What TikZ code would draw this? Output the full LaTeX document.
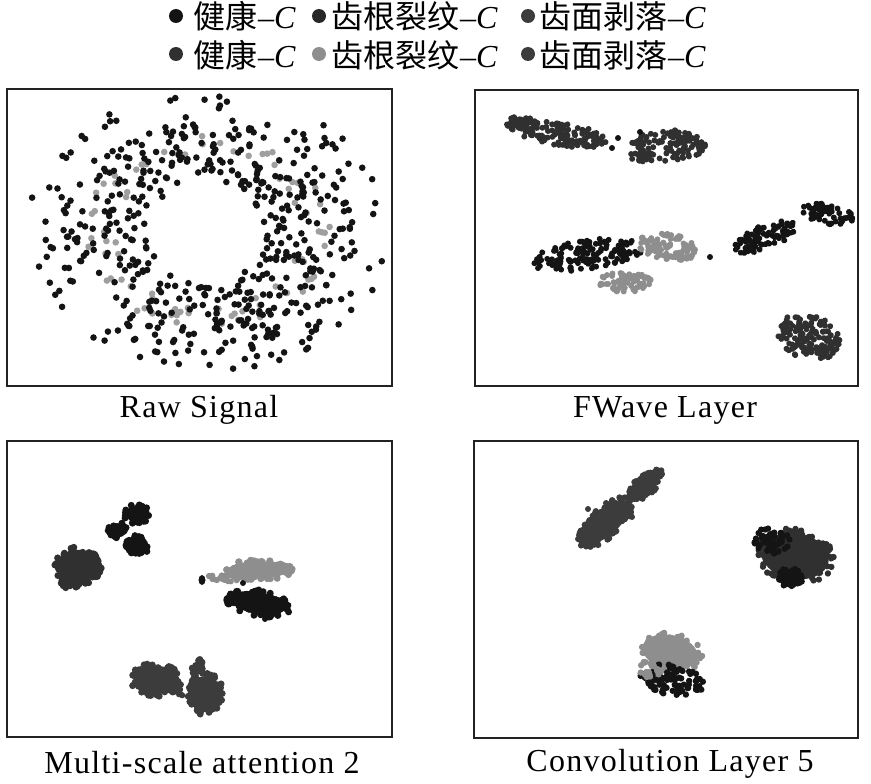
\documentclass[tikz,border=0pt]{standalone}
\usepackage{fontspec}
\setmainfont{Liberation Serif}
\newfontfamily\cjk{Noto Sans CJK SC}
\newfontfamily\lblfont[LetterSpace=4]{Liberation Serif}
\definecolor{blk}{HTML}{141414}
\definecolor{dk}{HTML}{303030}
\definecolor{dkb}{HTML}{3C3C3C}
\definecolor{lg}{HTML}{8E8E8E}
\definecolor{frame}{HTML}{222222}
\tikzset{
  panel/.style={draw=frame, line width=1.8pt},
  lbl/.style={inner sep=0pt, anchor=base, font=\lblfont\fontsize{32}{36}\selectfont},
  legtxt/.style={inner sep=0pt, anchor=base west, font=\fontsize{32}{36}\selectfont},
  legdot/.style={circle, inner sep=0pt, minimum size=14pt}
}
\newcommand\clu[8]{% cx, cy, rx, ry, rot, n, color, radius
  \begin{scope}[shift={(#1,#2)},rotate=#5]
    \foreach \k in {1,...,#6}{%
      \pgfmathsetmacro\aa{360*rnd}%
      \pgfmathsetmacro\rr{sqrt(rnd)}%
      \fill[#7] ({#3*\rr*cos(\aa)},{#4*\rr*sin(\aa)}) circle[radius=#8];
    }
  \end{scope}}
\newcommand\cluc[8]{% same, with a solid core
  \fill[#7, rotate around={#5:(#1,#2)}] (#1,#2) ellipse[x radius={0.85*#3}, y radius={0.85*#4}];
  \clu{#1}{#2}{#3}{#4}{#5}{#6}{#7}{#8}}
\newcommand\lgd[1]{{\cjk #1}\kern1pt--\textit{C}}
\begin{document}
\begin{tikzpicture}[x=1pt,y=-1pt]
\useasboundingbox (0,0) rectangle (871,784);
\pgfmathsetseed{4242}
% ---------- legend ----------
\node[legdot, fill=blk] (d11) at (176,16) {};
\node[legtxt] (t11) at (193,29) {\lgd{健康}};
\node[legdot, fill=blk!92] (d12) at (319,16) {};
\node[legtxt] (t12) at (331,29) {\lgd{齿根裂纹}};
\node[legdot, fill=dkb] (d13) at (528,16) {};
\node[legtxt] (t13) at (539,29) {\lgd{齿面剥落}};
\node[legdot, fill=dk] (d21) at (176,54) {};
\node[legtxt] (t21) at (193,68) {\lgd{健康}};
\node[legdot, fill=lg] (d22) at (319,54) {};
\node[legtxt] (t22) at (331,68) {\lgd{齿根裂纹}};
\node[legdot, fill=dkb] (d23) at (528,54) {};
\node[legtxt] (t23) at (539,68) {\lgd{齿面剥落}};
% ---------- panel 1: Raw Signal ----------
\begin{scope}
  \clip (7,89) rectangle (392,386);
  \foreach \k in {1,...,80}{%
    \pgfmathsetmacro\aa{360*rnd}%
    \pgfmathsetmacro\tt{0.4+0.12*rand}%
    \fill[lg!85] ({208+(56+128*\tt)*cos(\aa)},{232+(52+88*\tt)*sin(\aa)}) circle[radius=3.3];
  }
  \foreach \k in {1,...,380}{%
    \pgfmathsetmacro\aa{360*rnd}%
    \pgfmathsetmacro\tt{rnd}%
    \fill[blk] ({208+(56+128*\tt)*cos(\aa)},{232+(52+88*\tt)*sin(\aa)}) circle[radius=3.3];
  }
  \foreach \k in {1,...,150}{%
    \pgfmathsetmacro\aa{360*rnd}%
    \pgfmathsetmacro\tt{0.4+0.3*rand}%
    \fill[blk] ({208+(56+128*\tt)*cos(\aa)},{232+(52+88*\tt)*sin(\aa)}) circle[radius=3.3];
  }
\end{scope}
\draw[panel] (7,89) rectangle (392,386);
\node[lbl] (l1) at (199,417) {Raw Signal};
% ---------- panel 2: FWave Layer ----------
\clu{557}{133}{50}{12}{-10}{130}{dk}{3}
\clu{520}{122}{14}{7}{0}{25}{dk}{3}
\clu{668}{146}{39}{16}{0}{120}{dk}{3}
\clu{640}{156}{12}{6}{0}{18}{dk}{3}
\fill[blk] (618,138) circle[radius=3] (612,148) circle[radius=3] (640,132) circle[radius=3];
\clu{588}{255}{56}{15}{8}{140}{blk}{3}
\clu{668}{247}{30}{13}{-8}{100}{lg}{3}
\clu{625}{282}{27}{10}{0}{70}{lg}{3}
\fill[blk] (710,257) circle[radius=3];
\clu{765}{237}{33}{12}{22}{90}{blk}{3}
\clu{828}{214}{27}{10}{-12}{60}{blk}{3}
\clu{808}{337}{33}{22}{-15}{150}{blk!88}{3}
\draw[panel] (475,90) rectangle (858,386);
\node[lbl] (l2) at (665,417) {FWave Layer};
% ---------- panel 3: Multi-scale attention 2 ----------
\cluc{137}{514}{13}{10}{0}{45}{blk}{3.5}
\cluc{117}{530}{11}{8}{0}{35}{blk}{3.5}
\cluc{138}{545}{12}{10}{0}{45}{blk}{3.5}
\cluc{78}{566}{24}{19}{0}{110}{dk}{3.5}
\clu{70}{582}{10}{7}{0}{20}{dk}{3.5}
\cluc{258}{570}{35}{10}{0}{90}{lg}{3.5}
\clu{222}{578}{18}{4}{0}{25}{lg}{3}
\fill[blk] (202,580) ellipse[x radius=3.5, y radius=5];
\cluc{258}{603}{33}{13}{-10}{110}{blk}{3.5}
\fill[blk] (243,583) circle[radius=3] (238,591) circle[radius=3] (265,619) circle[radius=3];
\cluc{155}{680}{25}{17}{0}{110}{dkb}{3.5}
\cluc{205}{694}{19}{21}{0}{90}{dkb}{3.5}
\clu{198}{668}{6}{9}{0}{15}{dkb}{3.5}
\clu{180}{690}{6}{6}{0}{10}{dkb}{3}
\draw[panel] (7,441) rectangle (392,737);
\node[lbl] (l3) at (202,773) {Multi-scale attention 2};
% ---------- panel 4: Convolution Layer 5 ----------
\cluc{606}{522}{35}{15}{42}{140}{dkb}{3.2}
\cluc{645}{484}{22}{11}{42}{70}{dkb}{3.2}
\fill[dkb] (588,509) circle[radius=3] (632,517) circle[radius=3];
\cluc{795}{556}{40}{27}{-10}{150}{dk}{3.2}
\clu{772}{540}{18}{15}{0}{50}{blk}{3.2}
\cluc{790}{578}{14}{10}{0}{40}{blk}{3.2}
\cluc{670}{652}{33}{20}{-12}{110}{lg}{3.2}
\clu{672}{680}{32}{15}{-10}{100}{blk}{3.2}
\clu{650}{668}{12}{10}{0}{25}{lg}{3.2}
\draw[panel] (474,441) rectangle (858,738);
\node[lbl] (l4) at (670,771) {Convolution Layer 5};
\end{tikzpicture}
\end{document}
